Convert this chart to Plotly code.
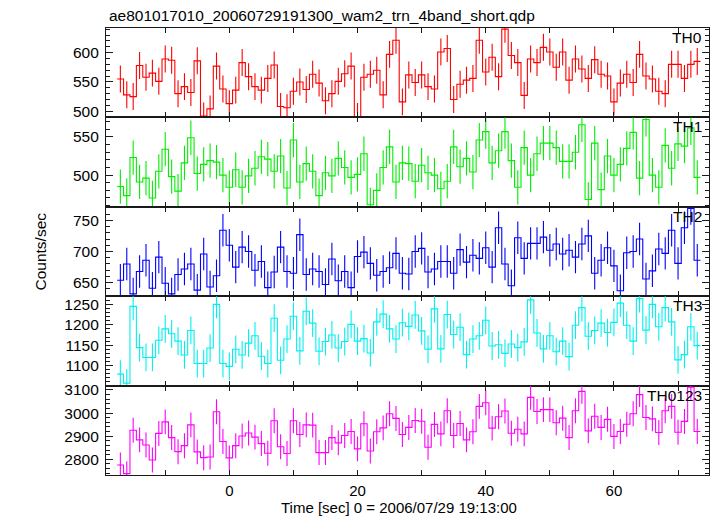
import plotly.graph_objects as go
from plotly.subplots import make_subplots

# ---------------- data ----------------
time_sec = list(range(-17, 74))  # 1-s bin centres

th0 = [555, 528, 525, 578, 558, 565, 551, 589, 587, 530,
       542, 532, 586, 492, 504, 577, 538, 513, 536, 583,
       559, 542, 536, 556, 579, 508, 506, 534, 550, 537,
       563, 548, 518, 530, 551, 564, 577, 491, 558, 563,
       570, 528, 597, 621, 516, 562, 549, 562, 542, 538,
       601, 607, 520, 546, 553, 556, 621, 567, 592, 559,
       640, 595, 583, 527, 589, 583, 609, 601, 575, 601,
       553, 589, 572, 556, 588, 563, 560, 516, 548, 563,
       549, 597, 560, 555, 534, 530, 580, 580, 556, 580,
       585]

th1 = [485, 473, 523, 491, 496, 470, 505, 534, 498, 479,
       516, 549, 502, 514, 519, 517, 500, 484, 507, 484,
       499, 509, 524, 521, 505, 525, 483, 546, 491, 515,
       505, 473, 503, 499, 522, 510, 497, 501, 528, 461,
       480, 510, 537, 491, 516, 515, 492, 513, 503, 500,
       482, 492, 537, 511, 522, 504, 546, 557, 516, 532,
       557, 519, 484, 536, 500, 528, 542, 542, 536, 518,
       518, 530, 566, 468, 542, 481, 525, 500, 514, 535,
       556, 496, 573, 500, 484, 539, 509, 541, 538, 562,
       497]

th2 = [654, 680, 632, 668, 686, 641, 691, 649, 632, 663,
       672, 680, 638, 696, 643, 661, 734, 710, 675, 707,
       700, 670, 684, 642, 667, 707, 668, 665, 727, 663,
       672, 668, 647, 688, 653, 668, 642, 692, 699, 681,
       662, 668, 674, 697, 665, 664, 700, 705, 667, 672,
       684, 684, 665, 703, 683, 694, 689, 706, 675, 738,
       680, 645, 722, 689, 713, 713, 723, 702, 712, 696,
       702, 691, 712, 725, 665, 686, 706, 677, 637, 698,
       700, 720, 656, 669, 704, 697, 734, 681, 738, 769,
       686]

th3 = [1079, 1057, 1245, 1144, 1120, 1120, 1162, 1190, 1178, 1160,
       1126, 1186, 1105, 1105, 1143, 1250, 1105, 1098, 1140, 1126,
       1155, 1173, 1123, 1105, 1216, 1113, 1165, 1221, 1136, 1233,
       1204, 1135, 1159, 1175, 1143, 1159, 1201, 1160, 1166, 1131,
       1207, 1226, 1190, 1165, 1205, 1196, 1224, 1185, 1140, 1239,
       1141, 1225, 1176, 1194, 1127, 1165, 1173, 1211, 1148, 1151,
       1130, 1153, 1144, 1158, 1261, 1180, 1141, 1173, 1134, 1160,
       1122, 1199, 1242, 1172, 1186, 1204, 1181, 1206, 1253, 1199,
       1160, 1264, 1187, 1250, 1195, 1242, 1207, 1114, 1127, 1195,
       1149]

th0123 = [2775, 2738, 2926, 2884, 2862, 2797, 2912, 2962, 2894, 2833,
          2859, 2949, 2832, 2807, 2810, 3006, 2877, 2806, 2859, 2901,
          2914, 2896, 2868, 2826, 2967, 2854, 2825, 2967, 2907, 2949,
          2948, 2829, 2829, 2894, 2871, 2903, 2920, 2845, 2954, 2836,
          2919, 2936, 2997, 2977, 2907, 2938, 2968, 2965, 2852, 2951,
          2910, 3010, 2903, 2955, 2884, 2919, 3029, 3045, 2935, 2984,
          3009, 2913, 2930, 2910, 3068, 3007, 3015, 3015, 2958, 2978,
          2894, 3010, 3094, 2923, 2986, 2938, 2973, 2899, 2920, 2952,
          2997, 3080, 2981, 2975, 2916, 3010, 3029, 2917, 2964, 3112,
          2920]

# typical 1-sigma error bar half-length per band
err_th0 = 23
err_th1 = 22.5
err_th2 = 26
err_th3 = 34
err_th0123 = 54

band_names = ["TH0", "TH1", "TH2", "TH3", "TH0123"]
band_values = [th0, th1, th2, th3, th0123]
band_errors = [err_th0, err_th1, err_th2, err_th3, err_th0123]

# tick labels
x_ticks = [0, 20, 40, 60]
y_ticks_th0 = [500, 550, 600]
y_ticks_th1 = [500, 550]
y_ticks_th2 = [650, 700, 750]
y_ticks_th3 = [1100, 1150, 1200, 1250]
y_ticks_th0123 = [2800, 2900, 3000, 3100]

title_text = "ae801017010_20060729191300_wam2_trn_4band_short.qdp"
x_title = "Time [sec] 0 = 2006/07/29 19:13:00"
y_title = "Counts/sec"

# ---------------- styling ----------------
colors = ["#ff0000", "#00ee00", "#0000ff", "#00f0f0", "#ff00ff"]
y_ranges = [[489.5, 642], [458.4, 575.7], [628.3, 771.7], [1051, 1270], [2732, 3119]]
y_ticks = [y_ticks_th0, y_ticks_th1, y_ticks_th2, y_ticks_th3, y_ticks_th0123]
y_minor = [10, 10, 10, 10, 20]
FONT = "Liberation Sans, Arial, sans-serif"
FS = 15.5
FS_X = 15
FRAME = "#1a1a1a"

W, H = 717, 516
ML, MR, MT, MB = 106, 8, 28, 41
PW = W - ML - MR
PH = H - MT - MB

fig = make_subplots(rows=5, cols=1, shared_xaxes=True, vertical_spacing=0)

for i, (vals, err, col) in enumerate(zip(band_values, band_errors, colors)):
    row = i + 1
    edges = [t - 0.5 for t in time_sec] + [time_sec[-1] + 0.5]
    steps = list(vals) + [vals[-1]]
    fig.add_trace(go.Scatter(
        x=time_sec, y=vals, mode="markers",
        marker=dict(size=1, color=col, opacity=0),
        error_y=dict(type="constant", value=err, width=0, thickness=1.1, color=col),
        showlegend=False, hoverinfo="skip"), row=row, col=1)
    fig.add_trace(go.Scatter(
        x=edges, y=steps, mode="lines", line=dict(color=col, width=1.1, shape="hv"),
        showlegend=False), row=row, col=1)

for i in range(5):
    row = i + 1
    fig.update_yaxes(
        row=row, col=1, range=y_ranges[i], tickvals=y_ticks[i],
        ticks="inside", ticklen=7, tickwidth=1, tickcolor=FRAME,
        minor=dict(ticks="inside", ticklen=3.5, dtick=y_minor[i], tickwidth=1, tickcolor=FRAME),
        showline=True, linecolor=FRAME, linewidth=1.1, mirror="ticks",
        showgrid=False, zeroline=False, ticklabelstandoff=3,
        tickfont=dict(family=FONT, size=FS, color="black"))
    fig.update_xaxes(
        row=row, col=1, range=[-19.24, 74.83], tickvals=x_ticks,
        ticks="inside", ticklen=5, tickwidth=1, tickcolor=FRAME,
        minor=dict(ticks="inside", ticklen=5, dtick=10, tickwidth=1, tickcolor=FRAME),
        showline=True, linecolor=FRAME, linewidth=1.1, mirror="ticks",
        showgrid=False, zeroline=False, showticklabels=(row == 5),
        ticklabelstandoff=2,
        tickfont=dict(family=FONT, size=FS_X, color="black"))

annotations = [
    dict(text=title_text, xref="paper", yref="paper", x=(107 - ML) / PW,
         y=1 + (MT - 15.5) / PH, xanchor="left", yanchor="middle", showarrow=False,
         font=dict(family=FONT, size=FS, color="black")),
    dict(text=y_title, xref="paper", yref="paper", x=(40 - ML) / PW, y=0.5,
         xanchor="center", yanchor="middle", textangle=-90, showarrow=False,
         font=dict(family=FONT, size=FS, color="black")),
    dict(text=x_title, xref="paper", yref="paper", x=(399 - ML) / PW,
         y=-(507.5 - (H - MB)) / PH, xanchor="center", yanchor="middle", showarrow=False,
         font=dict(family=FONT, size=FS_X, color="black")),
]
for i, name in enumerate(band_names):
    yref = "y domain" if i == 0 else f"y{i + 1} domain"
    annotations.append(dict(
        text=name, xref="paper", yref=yref, x=(704 - ML) / PW, y=1, yshift=-9.5,
        xanchor="right", yanchor="middle", showarrow=False,
        font=dict(family=FONT, size=FS, color="black")))

fig.update_layout(
    width=W, height=H, margin=dict(l=ML, r=MR, t=MT, b=MB),
    paper_bgcolor="white", plot_bgcolor="white",
    annotations=annotations, showlegend=False)

fig.write_html("out.html", config={"displayModeBar": False},
               post_script="document.body.style.margin='0';")
